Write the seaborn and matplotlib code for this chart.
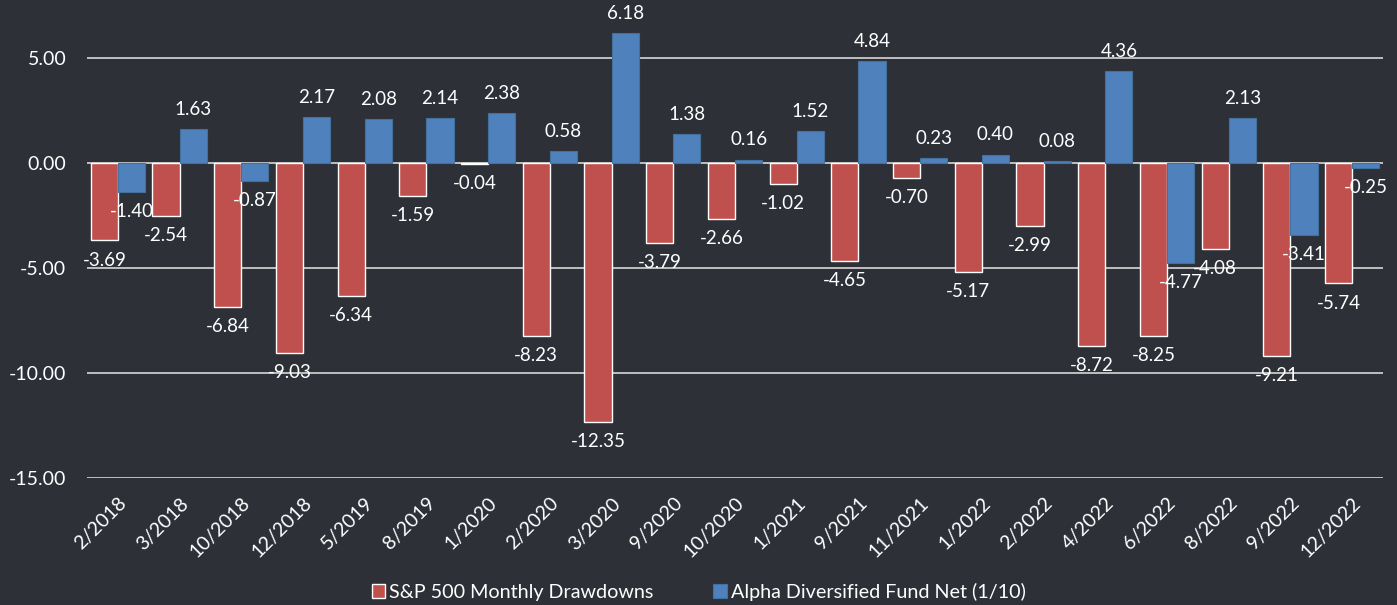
import matplotlib
matplotlib.use("Agg")
import matplotlib.pyplot as plt
import seaborn as sns
import pandas as pd

# --------------------------------------------------------
# Data
# --------------------------------------------------------

months = [
    "2/2018", "3/2018", "10/2018", "12/2018", "5/2019", "8/2019",
    "1/2020", "2/2020", "3/2020", "9/2020", "10/2020", "1/2021",
    "9/2021", "11/2021", "1/2022", "2/2022", "4/2022", "6/2022",
    "8/2022", "9/2022", "12/2022",
]

sp500 = [
    -3.69, -2.54, -6.84, -9.03, -6.34, -1.59, -0.04, -8.23, -12.35, -3.79,
    -2.66, -1.02, -4.65, -0.70, -5.17, -2.99, -8.72, -8.25, -4.08, -9.21,
    -5.74,
]

alpha_fund = [
    -1.40, 1.63, -0.87, 2.17, 2.08, 2.14, 2.38, 0.58, 6.18, 1.38,
    0.16, 1.52, 4.84, 0.23, 0.40, 0.08, 4.36, -4.77, 2.13, -3.41,
    -0.25,
]

series_names = ["S&P 500 Monthly Drawdowns", "Alpha Diversified Fund Net (1/10)"]

y_ticks = [5, 0, -5, -10, -15]

# --------------------------------------------------------
# Style
# --------------------------------------------------------

BG = "#2e3038"
RED = "#c0504d"
BLUE = "#4f81bd"
GRID = "#bfbfbf"

sns.set_theme(style="dark")
plt.rcParams["font.family"] = ["Lato", "DejaVu Sans"]

df = pd.DataFrame({
    "month": months * 2,
    "value": sp500 + alpha_fund,
    "series": [series_names[0]] * len(months) + [series_names[1]] * len(months),
})

fig = plt.figure(figsize=(13.97, 6.05), dpi=100, facecolor=BG)
ax = fig.add_axes([0.0623, 0.21, 0.9277, 0.781])
ax.set_facecolor(BG)

sns.barplot(
    data=df,
    x="month",
    y="value",
    hue="series",
    hue_order=series_names,
    palette=[RED, BLUE],
    width=0.88,
    gap=0,
    saturation=1,
    errorbar=None,
    legend=False,
    ax=ax,
)

# bar edges
for bar in ax.containers[0]:
    bar.set_edgecolor("white")
    bar.set_linewidth(1.0)
for bar in ax.containers[1]:
    bar.set_edgecolor("#41719c")
    bar.set_linewidth(0.8)

for container in ax.containers:
    ax.bar_label(
        container,
        fmt="%.2f",
        padding=8,
        color="white",
        fontsize=13.5,
    )

ax.set_ylim(-15, 7.5)
ax.set_xlim(-0.5, len(months) - 0.5)
ax.set_yticks(y_ticks)
ax.set_yticklabels([f"{t:.2f}" for t in y_ticks])

for t in y_ticks:
    ax.axhline(t, color=GRID, linewidth=1.4, zorder=0.5)

ax.tick_params(axis="y", length=0, pad=15, labelsize=14, labelcolor="white")
ax.tick_params(axis="x", length=0, pad=12, labelsize=14, labelcolor="white")
plt.setp(ax.get_xticklabels(), rotation=45, ha="right", rotation_mode="anchor")

ax.set_xlabel("")
ax.set_ylabel("")
for spine in ax.spines.values():
    spine.set_visible(False)
ax.grid(False)

# legend centred on the figure, like the original
handles = [
    plt.Rectangle((0, 0), 1, 1, facecolor=RED, edgecolor="white", linewidth=1.0),
    plt.Rectangle((0, 0), 1, 1, facecolor=BLUE, edgecolor="#41719c", linewidth=0.8),
]
legend = fig.legend(
    handles,
    series_names,
    loc="center",
    bbox_to_anchor=(0.5, 0.022),
    ncol=2,
    frameon=False,
    fontsize=14.2,
    handlelength=0.7,
    handleheight=0.7,
    handletextpad=0.2,
    columnspacing=3.0,
)
for text in legend.get_texts():
    text.set_color("white")

fig.savefig("out.png", dpi=100, facecolor=BG)
plt.close(fig)
